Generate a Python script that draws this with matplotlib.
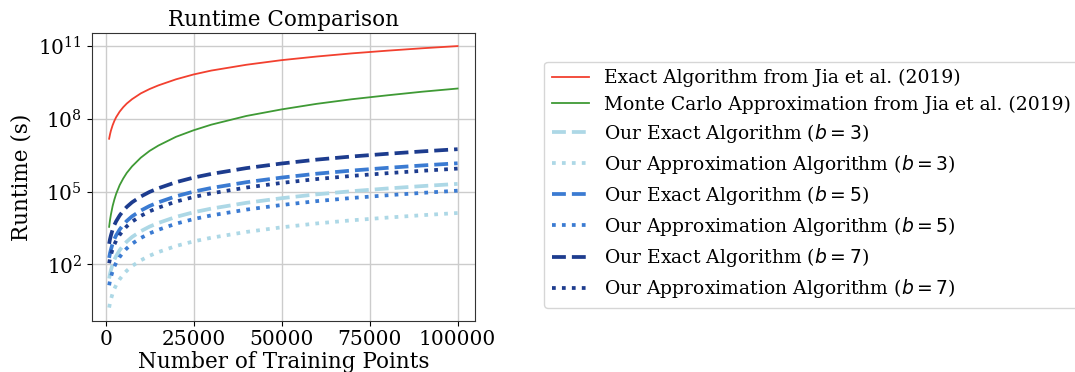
import numpy as np
import matplotlib
matplotlib.use("Agg")
import matplotlib.pyplot as plt
from matplotlib.ticker import NullLocator

# ---- data (runtimes, given as log10 of seconds) ----
n_points = [1000, 1250, 1500, 2000, 2500, 3000, 4000, 5000, 6000, 7500, 10000,
            12500, 15000, 20000, 25000, 30000, 40000, 50000, 60000, 70000,
            80000, 90000, 100000]

log10_exact_jia = [7.18, 7.36, 7.51, 7.74, 7.92, 8.07, 8.30, 8.48, 8.63, 8.81,
                   9.05, 9.23, 9.38, 9.63, 9.83, 9.99, 10.23, 10.42, 10.57,
                   10.70, 10.81, 10.91, 11.00]
log10_mc_jia = [3.55, 3.83, 4.05, 4.41, 4.68, 4.91, 5.27, 5.54, 5.77, 6.04,
                6.40, 6.68, 6.90, 7.26, 7.53, 7.76, 8.12, 8.39, 8.62, 8.81,
                8.97, 9.12, 9.25]
log10_exact_b3 = [1.42, 1.61, 1.76, 2.01, 2.20, 2.35, 2.59, 2.78, 2.94, 3.13,
                  3.37, 3.56, 3.71, 3.96, 4.15, 4.30, 4.54, 4.73, 4.89, 5.02,
                  5.13, 5.23, 5.32]
log10_approx_b3 = [0.22, 0.41, 0.56, 0.81, 1.00, 1.15, 1.39, 1.58, 1.74, 1.93,
                   2.17, 2.36, 2.51, 2.76, 2.95, 3.10, 3.34, 3.53, 3.69, 3.82,
                   3.93, 4.03, 4.12]
log10_exact_b5 = [2.27, 2.46, 2.61, 2.86, 3.05, 3.20, 3.44, 3.63, 3.79, 3.98,
                  4.22, 4.41, 4.56, 4.81, 5.00, 5.15, 5.39, 5.58, 5.74, 5.87,
                  5.98, 6.08, 6.17]
log10_approx_b5 = [1.14, 1.33, 1.48, 1.73, 1.92, 2.07, 2.31, 2.50, 2.66, 2.85,
                   3.09, 3.28, 3.43, 3.68, 3.87, 4.02, 4.26, 4.45, 4.61, 4.74,
                   4.85, 4.95, 5.04]
log10_exact_b7 = [2.85, 3.04, 3.19, 3.44, 3.63, 3.78, 4.02, 4.21, 4.37, 4.56,
                  4.80, 4.99, 5.14, 5.39, 5.58, 5.73, 5.97, 6.16, 6.32, 6.45,
                  6.56, 6.66, 6.75]
log10_approx_b7 = [2.05, 2.24, 2.39, 2.64, 2.83, 2.98, 3.22, 3.41, 3.57, 3.76,
                   4.00, 4.19, 4.34, 4.59, 4.78, 4.93, 5.17, 5.36, 5.52, 5.65,
                   5.76, 5.86, 5.95]

labels = [
    "Exact Algorithm from Jia et al. (2019)",
    "Monte Carlo Approximation from Jia et al. (2019)",
    "Our Exact Algorithm ($b = 3$)",
    "Our Approximation Algorithm ($b = 3$)",
    "Our Exact Algorithm ($b = 5$)",
    "Our Approximation Algorithm ($b = 5$)",
    "Our Exact Algorithm ($b = 7$)",
    "Our Approximation Algorithm ($b = 7$)",
]
series = [log10_exact_jia, log10_mc_jia, log10_exact_b3, log10_approx_b3,
          log10_exact_b5, log10_approx_b5, log10_exact_b7, log10_approx_b7]

# ---- styles ----
c_red, c_green = "#f2402f", "#3f9a35"
c_light, c_mid, c_dark = "#add8e6", "#3b7bd2", "#1d3c8e"
styles = [
    dict(color=c_red, ls="-", lw=1.3),
    dict(color=c_green, ls="-", lw=1.3),
    dict(color=c_light, ls="--", lw=2.7),
    dict(color=c_light, ls=":", lw=2.7),
    dict(color=c_mid, ls="--", lw=2.7),
    dict(color=c_mid, ls=":", lw=2.7),
    dict(color=c_dark, ls="--", lw=2.7),
    dict(color=c_dark, ls=":", lw=2.7),
]

plt.rcParams["font.family"] = "serif"
plt.rcParams["mathtext.fontset"] = "dejavusans"

W, H = 1075, 372
fig = plt.figure(figsize=(W / 100, H / 100), dpi=100)
ax = fig.add_axes([91.7 / W, 1 - 320.7 / H, (475 - 91.7) / W, (320.7 - 33) / H])

for vals, lab, st in zip(series, labels, styles):
    ax.plot(n_points, 10 ** np.array(vals), label=lab, **st)

ax.set_yscale("log")
ax.set_yticks([1e2, 1e5, 1e8, 1e11])
ax.yaxis.set_minor_locator(NullLocator())
ax.set_xticks([0, 25000, 50000, 75000, 100000])
ax.grid(True, color="#cccccc", lw=1.0)
ax.tick_params(labelsize=14.5)
for sp in ax.spines.values():
    sp.set_color("#333333")
ax.set_title("Runtime Comparison", fontsize=15.5, pad=5)
ax.set_xlabel("Number of Training Points", fontsize=15.5, labelpad=1)
ax.set_ylabel("Runtime (s)", fontsize=15.5, labelpad=4)

ax.legend(loc="upper left", bbox_to_anchor=(544 / W, 1 - 61.7 / H),
          bbox_transform=fig.transFigure, borderaxespad=0, fontsize=13.5,
          labelspacing=0.43)

fig.savefig("out.png", dpi=100)
